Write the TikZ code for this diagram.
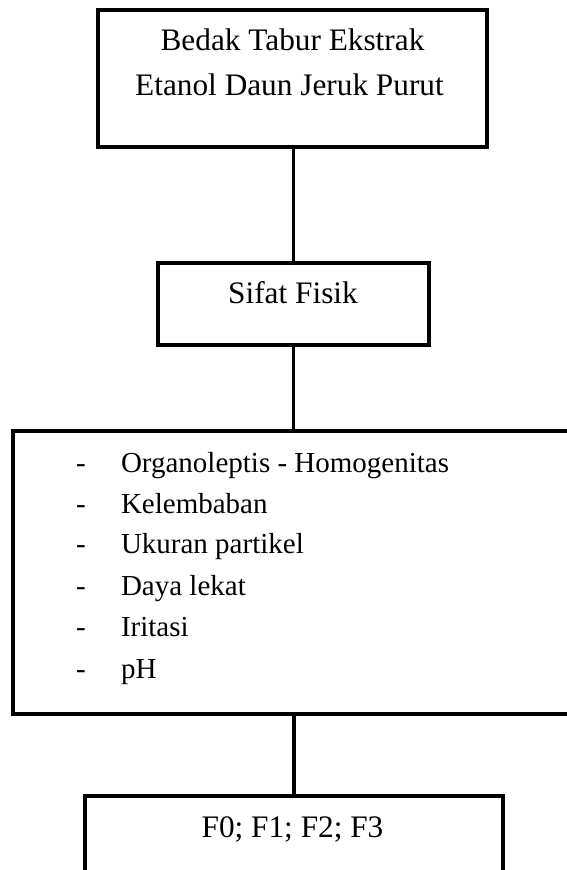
\documentclass[tikz,border=0pt]{standalone}
\usepackage{fontspec}
\setmainfont{Liberation Serif}
\begin{document}
\begin{tikzpicture}[x=1pt,y=-1pt,
  box/.style={draw=black, line width=3.8pt, rectangle, inner sep=0pt, outer sep=0pt},
  link/.style={draw=black, line width=3.6pt},
  txt/.style={font=\fontsize{31.3}{37}\selectfont, inner sep=0pt, outer sep=0pt, anchor=base},
  dashmark/.style={txt, font=\fontsize{29}{35}\selectfont},
  item/.style={txt, font=\fontsize{29}{35}\selectfont, anchor=base west}]
\useasboundingbox (0,0) rectangle (567,870);
\clip (0,0) rectangle (567,870);

% boxes
\node[box, minimum width=389pt, minimum height=137pt] (b1) at (292.5,78.5) {};
\node[box, minimum width=271pt, minimum height=82pt] (b2) at (293.5,304) {};
\node[box, minimum width=572pt, minimum height=283pt] (b3) at (299,572.5) {};
\node[box, minimum width=418pt, minimum height=94pt] (b4) at (294,843) {};

% connectors
\draw[link] (b2.north |- b1.south) -- (b2.north);
\draw[link] (b2.south) -- (b2.south |- b3.north);
\draw[link] (b4.north |- b3.south) -- (b4.north);

% box texts
\node[txt] (t1a) at (292.5,50) {Bedak Tabur Ekstrak};
\node[txt] (t1b) at (289.5,95) {Etanol Daun Jeruk Purut};
\node[txt] (t2) at (293,303) {Sifat Fisik};
\node[txt] (t4) at (292.5,837) {F0; F1; F2; F3};

% list of tests
\foreach \y/\label [count=\i] in {472/Organoleptis - Homogenitas, 513/Kelembaban,
    553/Ukuran partikel, 595/Daya lekat, 636/Iritasi, 678/pH} {
  \node[dashmark] (d\i) at (81,\y) {-};
  \node[item] (l\i) at (121,\y) {\label};
}
\end{tikzpicture}
\end{document}
